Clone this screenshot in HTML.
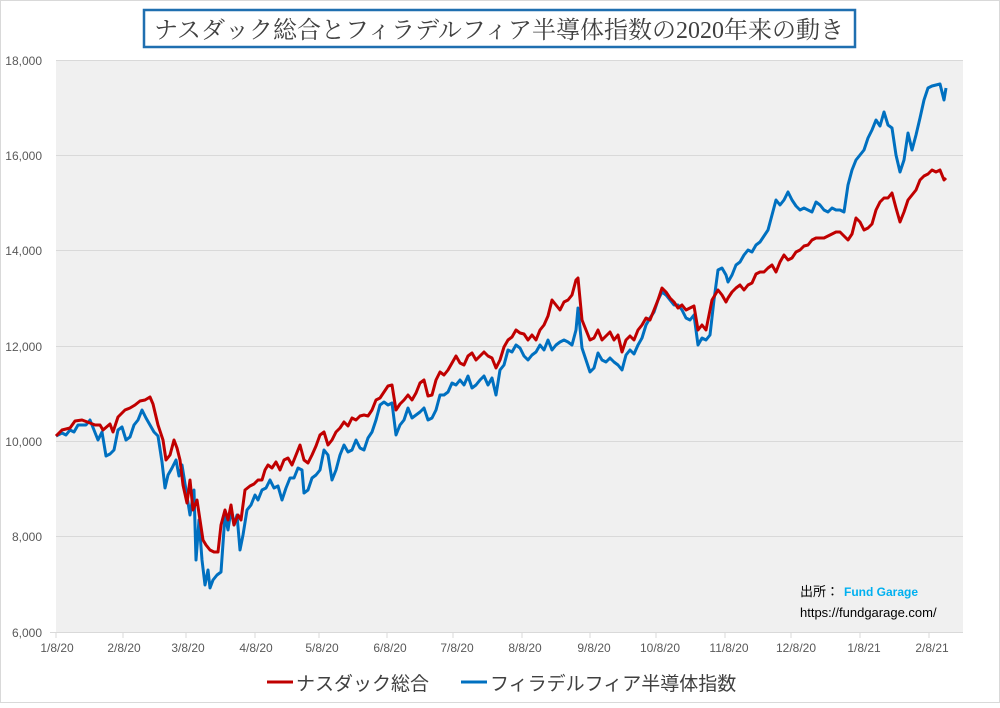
<!DOCTYPE html>
<html><head><meta charset="utf-8"><style>
body{margin:0;width:1000px;height:703px;background:#fff;overflow:hidden;font-family:"Liberation Sans","Noto Sans CJK JP",sans-serif}
</style></head><body>
<svg width="1000" height="703" xmlns="http://www.w3.org/2000/svg" font-family="Liberation Sans, Noto Sans CJK JP, sans-serif">
<rect x="0.5" y="0.5" width="999" height="702" fill="#fff" stroke="#d9d9d9"/>
<rect x="56" y="60" width="907" height="572" fill="#f0f0f0"/>
<g stroke="#d9d9d9" stroke-width="1">
<line x1="56" y1="60.5" x2="963" y2="60.5"/><line x1="56" y1="155.5" x2="963" y2="155.5"/>
<line x1="56" y1="250.5" x2="963" y2="250.5"/><line x1="56" y1="346.5" x2="963" y2="346.5"/>
<line x1="56" y1="441.5" x2="963" y2="441.5"/><line x1="56" y1="536.5" x2="963" y2="536.5"/>
<line x1="50" y1="632.5" x2="963" y2="632.5"/>
<g><line x1="56" y1="632" x2="56" y2="638"/><line x1="123" y1="632" x2="123" y2="638"/><line x1="186" y1="632" x2="186" y2="638"/><line x1="255" y1="632" x2="255" y2="638"/><line x1="319" y1="632" x2="319" y2="638"/><line x1="387" y1="632" x2="387" y2="638"/><line x1="453" y1="632" x2="453" y2="638"/><line x1="522" y1="632" x2="522" y2="638"/><line x1="590" y1="632" x2="590" y2="638"/><line x1="656" y1="632" x2="656" y2="638"/><line x1="725" y1="632" x2="725" y2="638"/><line x1="791" y1="632" x2="791" y2="638"/><line x1="860" y1="632" x2="860" y2="638"/><line x1="929" y1="632" x2="929" y2="638"/></g>
</g>
<g font-size="12" fill="#595959" text-anchor="end">
<text x="42" y="65">18,000</text><text x="42" y="160">16,000</text><text x="42" y="255">14,000</text><text x="42" y="351">12,000</text><text x="42" y="446">10,000</text><text x="42" y="541">8,000</text><text x="42" y="637">6,000</text>
</g>
<g font-size="12" fill="#595959" text-anchor="middle">
<text x="57" y="652">1/8/20</text><text x="124" y="652">2/8/20</text><text x="188" y="652">3/8/20</text><text x="256" y="652">4/8/20</text><text x="322" y="652">5/8/20</text><text x="390" y="652">6/8/20</text><text x="457" y="652">7/8/20</text><text x="525" y="652">8/8/20</text><text x="594" y="652">9/8/20</text><text x="660" y="652">10/8/20</text><text x="729" y="652">11/8/20</text><text x="796" y="652">12/8/20</text><text x="864" y="652">1/8/21</text><text x="932" y="652">2/8/21</text>
</g>
<polyline fill="none" stroke="#0070c0" stroke-width="3" stroke-linejoin="round" points="56,436 62,433 66,435 70,430 74,432 78,425 86,425 90,420 94,430 98,440 102,432 106,456 110,454 114,450 118,430 122,427 126,440 130,437 134,425 138,420 142,410 146,418 150,425 154,432 158,436 162,462 165,488 168,475 172,468 176,460 179,476 182,465 186,490 190,515 194,490 196,560 199,520 202,560 205,585 208,570 210,588 213,580 217,575 221,572 225,515 228,530 231,510 234,525 237,515 240,550 243,535 247,510 251,505 255,495 258,500 262,490 266,488 270,480 274,488 278,486 282,500 286,488 290,478 294,478 298,468 302,470 304,493 308,490 312,478 316,475 320,470 324,450 328,455 332,480 336,470 340,455 344,445 348,452 352,450 356,440 360,448 364,450 368,438 372,432 376,420 380,405 384,402 388,405 392,403 396,435 400,425 404,420 408,408 412,418 416,415 420,412 424,408 428,420 432,418 436,410 440,395 444,395 448,392 452,383 456,385 460,380 464,385 468,376 472,388 476,385 480,380 484,376 488,385 492,378 496,395 500,370 504,365 508,350 512,352 516,345 520,348 524,356 528,360 532,355 536,352 540,345 544,350 548,340 552,350 556,345 560,342 564,340 568,342 572,345 576,330 578,308 582,348 586,360 590,372 594,368 598,353 602,360 606,362 610,358 614,362 618,365 622,370 626,355 630,350 634,354 638,345 642,338 646,325 650,318 654,312 658,300 662,292 666,295 670,300 674,305 678,305 682,310 686,318 690,320 694,315 698,345 702,338 706,340 710,335 714,300 718,270 722,268 726,275 728,282 732,275 736,265 740,262 744,255 748,250 752,252 756,245 760,242 764,236 768,230 772,215 776,200 780,205 784,200 788,192 792,200 796,206 800,210 804,208 808,210 812,212 816,202 820,205 824,210 828,212 832,208 836,210 840,210 844,212 848,185 852,170 856,160 860,155 864,150 868,138 872,130 876,120 880,126 884,112 888,125 892,128 896,155 900,172 904,160 908,133 912,150 916,135 920,118 924,100 928,88 932,86 936,85 940,84 944,100 946,88"/>
<polyline fill="none" stroke="#c00000" stroke-width="3" stroke-linejoin="round" points="56,436 62,430 70,428 75,421 82,420 90,423 95,425 100,425 103,430 110,424 113,432 118,417 125,410 130,408 135,405 140,401 145,400 150,397 153,404 158,425 163,440 166,460 170,455 174,440 177,448 180,460 183,485 187,503 190,480 193,510 197,500 200,520 203,540 206,545 210,550 214,552 218,552 221,525 225,510 228,520 231,505 234,525 238,515 241,520 245,490 250,486 254,484 258,480 262,480 265,470 268,465 272,468 276,462 280,470 284,460 288,458 292,465 296,455 300,445 304,460 308,463 312,455 316,446 320,435 324,432 328,445 332,440 336,432 340,428 344,422 348,426 352,418 356,420 360,416 364,415 368,416 372,410 376,400 380,398 384,392 388,386 392,385 396,410 400,404 404,400 408,395 412,400 416,393 420,383 424,380 428,396 432,395 436,380 440,372 444,375 448,370 452,363 456,356 460,363 464,365 468,356 472,353 476,360 480,356 484,352 488,356 492,358 496,368 500,360 504,347 508,340 512,337 516,330 520,333 524,334 528,340 532,335 536,340 540,330 544,325 548,316 552,300 556,305 560,310 564,302 568,300 572,295 576,280 578,278 582,320 586,330 590,340 594,338 598,330 602,340 606,336 610,332 614,340 618,335 622,352 626,340 630,336 634,340 638,330 642,325 646,318 650,320 654,310 658,300 662,288 666,292 670,298 674,302 678,308 682,305 686,310 690,308 694,306 698,330 702,325 706,330 712,300 718,290 722,295 726,302 728,298 732,292 736,288 740,285 744,290 748,285 752,283 756,274 760,272 764,272 768,268 772,265 776,272 780,262 784,255 788,260 792,258 796,252 800,250 804,246 808,245 812,240 816,238 820,238 824,238 828,236 832,234 836,232 840,232 844,236 848,240 852,234 856,218 860,222 864,230 868,228 872,224 876,210 880,202 884,198 888,198 892,193 896,208 900,222 904,212 908,200 912,195 916,190 920,180 924,176 928,174 932,170 936,172 940,170 944,180 946,178"/>
<rect x="144" y="10" width="711" height="37" fill="#fff" stroke="#1f6fb0" stroke-width="2.5"/>
<text x="499" y="38" font-size="24" fill="#404040" text-anchor="middle" font-family="Liberation Serif, Noto Serif CJK SC, serif">ナスダック総合とフィラデルフィア半導体指数の2020年来の動き</text>
<text x="800" y="596" font-size="13" fill="#000">出所：</text>
<text x="844" y="596" font-size="12" fill="#00b0f0" font-weight="bold">Fund Garage</text>
<text x="800" y="617" font-size="13" fill="#000">https://fundgarage.com/</text>
<line x1="267" y1="682" x2="293" y2="682" stroke="#c00000" stroke-width="3"/>
<text x="296" y="690" font-size="19" fill="#404040">ナスダック総合</text>
<line x1="461" y1="682" x2="487" y2="682" stroke="#0070c0" stroke-width="3"/>
<text x="490" y="690" font-size="19" fill="#404040">フィラデルフィア半導体指数</text>
</svg>
</body></html>
